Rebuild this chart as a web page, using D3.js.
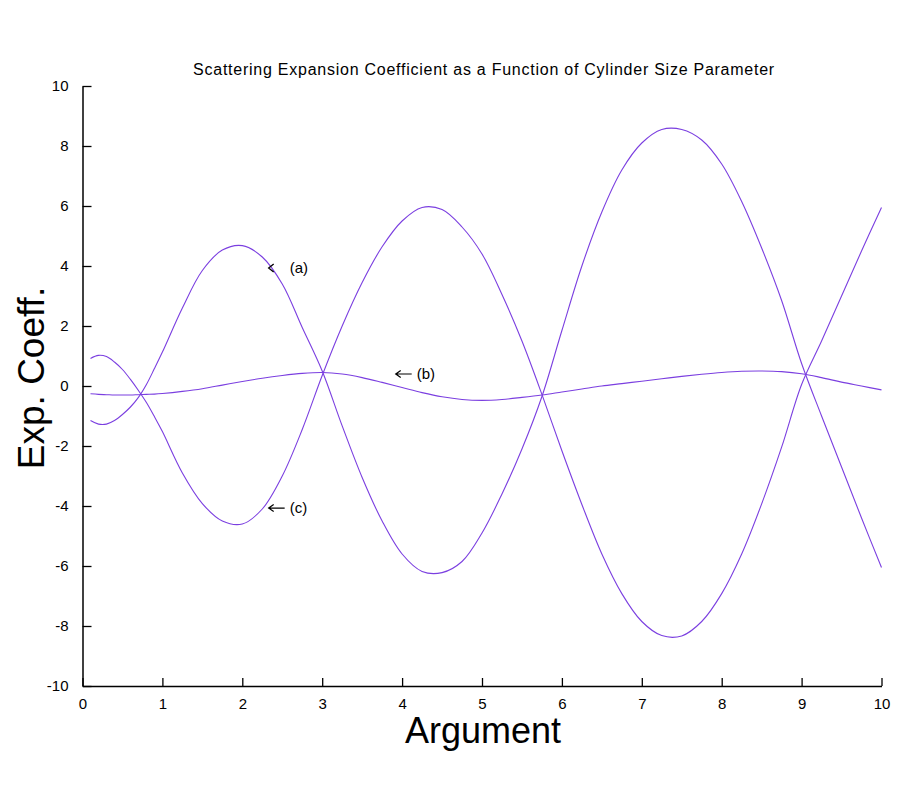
<!DOCTYPE html>
<html>
<head>
<meta charset="utf-8">
<script src="https://cdn.jsdelivr.net/npm/d3@7"></script>
<style>
  html, body { margin: 0; padding: 0; background: #fff; }
  svg text { font-family: "Liberation Sans", Arial, Helvetica, sans-serif; fill: #000; }
</style>
</head>
<body>
<svg id="chart" width="900" height="800"></svg>
<script>
// ---- data ----
const titleText = "Scattering Expansion Coefficient as a Function of Cylinder Size Parameter";
const xLabel = "Argument";
const yLabel = "Exp. Coeff.";
const xTicks = [0, 1, 2, 3, 4, 5, 6, 7, 8, 9, 10];
const yTicks = [-10, -8, -6, -4, -2, 0, 2, 4, 6, 8, 10];

const xs = [0.1, 0.2, 0.3, 0.4, 0.5, 0.6, 0.7, 0.8, 0.9, 1.0, 1.25, 1.5, 1.75, 2.0, 2.25, 2.5, 2.75,
            3.0, 3.25, 3.5, 3.75, 4.0, 4.25, 4.5, 4.75, 5.0, 5.25, 5.5, 5.75, 6.0, 6.25, 6.5, 6.75,
            7.0, 7.25, 7.5, 7.75, 8.0, 8.25, 8.5, 8.75, 9.0, 9.25, 9.5, 9.75, 10.0];
const seriesA = [-1.15, -1.27, -1.27, -1.15, -0.95, -0.7, -0.38, 0.05, 0.58, 1.13, 2.6, 3.85, 4.53, 4.68, 4.3, 3.4, 1.95,
                 0.5, -1.33, -3.05, -4.5, -5.6, -6.18, -6.22, -5.85, -4.9, -3.6, -2.1, -0.35, 1.85, 4.0, 5.8, 7.2,
                 8.1, 8.55, 8.55, 8.2, 7.4, 6.15, 4.6, 2.85, 0.75, -1.0, -2.7, -4.4, -6.05];
const seriesB = [-0.26, -0.28, -0.29, -0.3, -0.3, -0.3, -0.29, -0.28, -0.27, -0.25, -0.18, -0.09, 0.03, 0.15, 0.26, 0.35, 0.42,
                 0.45, 0.4, 0.28, 0.12, -0.05, -0.22, -0.36, -0.45, -0.48, -0.45, -0.38, -0.3, -0.2, -0.1, 0.0, 0.08,
                 0.16, 0.24, 0.32, 0.39, 0.45, 0.49, 0.5, 0.48, 0.41, 0.28, 0.13, 0.0, -0.13];
const seriesC = [0.92, 1.02, 0.98, 0.8, 0.55, 0.22, -0.15, -0.55, -1.02, -1.52, -2.9, -3.92, -4.5, -4.6, -4.1, -3.0, -1.45,
                 0.35, 2.0, 3.45, 4.64, 5.5, 5.95, 5.88, 5.3, 4.4, 3.05, 1.5, -0.28, -2.16, -3.95, -5.6, -6.92,
                 -7.85, -8.32, -8.33, -7.85, -6.92, -5.6, -3.93, -2.04, 0.05, 1.5, 3.0, 4.5, 5.95];

const annoLabels = ["(a)", "(b)", "(c)"];
const annoX = [2.33, 3.92, 2.33];
const annoY = [3.93, 0.4, -4.07];

// ---- layout ----
const svg = d3.select("#chart");
const x = d3.scaleLinear().domain([0, 10]).range([82.5, 881.5]);
const y = d3.scaleLinear().domain([-10, 10]).range([686, 86]);
const lineColor = "#7b3fe0";
const fmt = d => String(d);   // plain hyphen-minus as in the reference

// title
svg.append("text")
  .attr("x", 484).attr("y", 75)
  .attr("text-anchor", "middle")
  .style("font-size", "16px")
  .style("letter-spacing", "0.75px")
  .text(titleText);

// axes
const xAxis = d3.axisBottom(x).tickValues(xTicks).tickSizeInner(-8).tickSizeOuter(0).tickPadding(12).tickFormat(fmt);
const yAxis = d3.axisLeft(y).tickValues(yTicks).tickSizeInner(-9).tickSizeOuter(0).tickPadding(14).tickFormat(fmt);

const gx = svg.append("g").attr("transform", `translate(0,${y(-10)})`).call(xAxis);
const gy = svg.append("g").attr("transform", `translate(${x(0)},0)`).call(yAxis);
[gx, gy].forEach(g => {
  g.select(".domain").attr("stroke", "#000").attr("stroke-width", 1.5);
  g.selectAll(".tick line").attr("stroke", "#000").attr("stroke-width", 1.3);
  g.selectAll(".tick text").style("font-size", "15px").attr("fill", "#000")
    .style("font-family", "'Liberation Sans', Arial, sans-serif");
});

// axis labels
svg.append("text")
  .attr("x", 483).attr("y", 743)
  .attr("text-anchor", "middle")
  .style("font-size", "36px")
  .text(xLabel);
svg.append("text")
  .attr("transform", `translate(44,378) rotate(-90)`)
  .attr("text-anchor", "middle")
  .style("font-size", "37px")
  .text(yLabel);

// curves
const line = d3.line()
  .x((d, i) => x(xs[i]))
  .y(d => y(d))
  .curve(d3.curveCatmullRom.alpha(0.5));

[seriesA, seriesB, seriesC].forEach(s => {
  svg.append("path")
    .datum(s)
    .attr("d", line)
    .attr("fill", "none")
    .attr("stroke", lineColor)
    .attr("stroke-width", 1.1);
});

// annotations
annoLabels.forEach((lab, i) => {
  const g = svg.append("g");
  const ax = x(annoX[i]), ay = y(annoY[i]);
  if (i === 0) {
    g.append("path")
      .attr("d", `M${ax + 5},${ay - 4} L${ax},${ay} L${ax + 5},${ay + 4}`)
      .attr("fill", "none").attr("stroke", "#000").attr("stroke-width", 1.3);
  } else {
    g.append("path")
      .attr("d", `M${ax + 16},${ay} L${ax},${ay} M${ax + 5},${ay - 3.5} L${ax},${ay} L${ax + 5},${ay + 3.5}`)
      .attr("fill", "none").attr("stroke", "#000").attr("stroke-width", 1.2);
  }
  g.append("text")
    .attr("x", ax + 21).attr("y", ay + 5)
    .style("font-size", "15px")
    .text(lab);
});
</script>
</body>
</html>
